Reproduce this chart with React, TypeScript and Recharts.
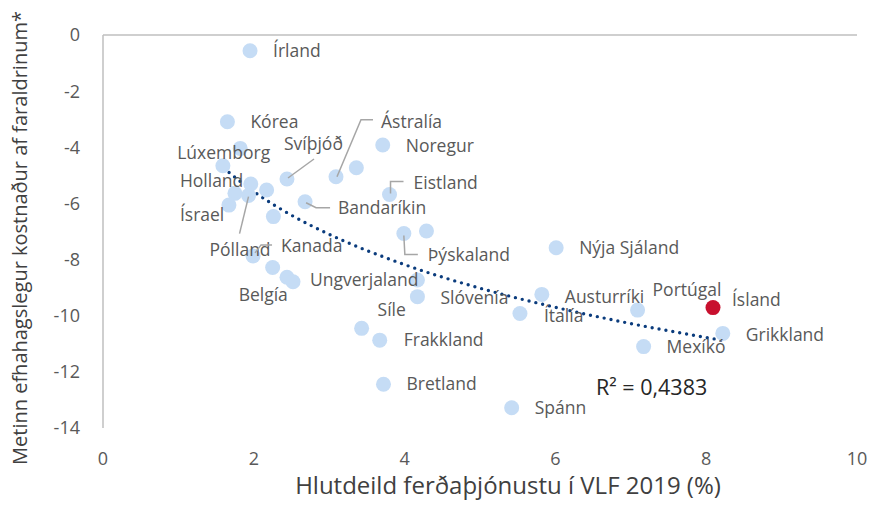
import { ComposedChart, Scatter, Line, XAxis, YAxis, ReferenceLine, Cell } from 'recharts'

const countries = [
  'Írland', 'Kórea', 'Lúxemborg', 'Holland', '', '', 'Pólland', 'Ísrael', '', 'Svíþjóð',
  '', 'Bandaríkin', 'Ástralía', '', 'Noregur', 'Eistland', 'Þýskaland', '', 'Kanada', 'Belgía',
  '', 'Ungverjaland', '', 'Slóvenía', 'Nýja Sjáland', 'Austurríki', 'Ítalía', 'Portúgal', 'Ísland', 'Grikkland',
  'Mexíkó', 'Síle', 'Frakkland', 'Bretland', 'Spánn',
]
const tourismShare = [
  1.95, 1.65, 1.82, 1.59, 1.96, 1.75, 1.93, 1.67, 2.17, 2.44,
  2.26, 2.68, 3.09, 3.36, 3.71, 3.8, 3.99, 4.29, 1.99, 2.25,
  2.44, 2.52, 4.17, 4.17, 6.01, 5.82, 5.53, 7.09, 8.09, 8.22,
  7.17, 3.43, 3.67, 3.72, 5.42,
]
const economicCost = [
  -0.56, -3.09, -4.04, -4.66, -5.31, -5.64, -5.72, -6.06, -5.52, -5.13,
  -6.47, -5.94, -5.05, -4.73, -3.92, -5.68, -7.07, -6.98, -7.87, -8.28,
  -8.63, -8.79, -8.73, -9.32, -7.58, -9.24, -9.92, -9.8, -9.71, -10.63,
  -11.1, -10.45, -10.87, -12.44, -13.28,
]

// trend line
const trendShare = [1.6, 2, 2.5, 3, 4, 5, 6, 7, 8.2]
const trendCost = [-4.74, -5.58, -6.42, -7.1, -8.18, -9.02, -9.7, -10.28, -10.87]

const xTicks = [0, 2, 4, 6, 8, 10]
const yTicks = [0, -2, -4, -6, -8, -10, -12, -14]

const points = countries.map((name, i) => ({ name, x: tourismShare[i], y: economicCost[i] }))
const trend = trendShare.map((x, i) => ({ x, y: trendCost[i] }))

// label offsets from the point centre (text start, vertical middle) + optional leader line
const labelLayout: Record<string, { dx: number; dy: number; leader?: number[][] }> = {
  'Írland': { dx: 23, dy: 0 },
  'Kórea': { dx: 23, dy: 0 },
  'Lúxemborg': { dx: -63, dy: 4 },
  'Holland': { dx: -43, dy: 15 },
  'Pólland': { dx: -39, dy: 54, leader: [[-9, 38], [0, 1]] },
  'Ísrael': { dx: -49, dy: 10 },
  'Svíþjóð': { dx: -3, dy: -35, leader: [[27, -20], [1, -1]] },
  'Bandaríkin': { dx: 33, dy: 6, leader: [[25, 6], [11, 6], [1, 1]] },
  'Ástralía': { dx: 45, dy: -55, leader: [[37, -57], [25, -57], [1, 0]] },
  'Noregur': { dx: 23, dy: 1 },
  'Eistland': { dx: 24, dy: -12, leader: [[14, -13], [1, -13], [1, -1]] },
  'Þýskaland': { dx: 24, dy: 21, leader: [[14, 21], [1, 21], [0, 2]] },
  'Kanada': { dx: 28, dy: -10, leader: [[19, -11], [8, -11], [2, -3]] },
  'Belgía': { dx: -34, dy: 27 },
  'Ungverjaland': { dx: 17, dy: -2 },
  'Slóvenía': { dx: 23, dy: 1 },
  'Nýja Sjáland': { dx: 23, dy: 0 },
  'Austurríki': { dx: 23, dy: 2 },
  'Ítalía': { dx: 24, dy: 2 },
  'Portúgal': { dx: 15, dy: -20 },
  'Ísland': { dx: 19, dy: -8 },
  'Grikkland': { dx: 23, dy: 1 },
  'Mexíkó': { dx: 23, dy: 0 },
  'Síle': { dx: 16, dy: -18 },
  'Frakkland': { dx: 24, dy: 0 },
  'Bretland': { dx: 23, dy: 0 },
  'Spánn': { dx: 23, dy: 0 },
}

const FONT = '"Open Sans", "Noto Sans", sans-serif'
const GREY = '#595959'

function Dot(props: any) {
  const { cx, cy, fill } = props
  return <circle cx={cx} cy={cy} r={7.5} fill={fill} />
}

function PointLabel(props: any) {
  const { cx, cy, payload } = props
  const layout = labelLayout[payload.name]
  if (!payload.name || !layout) return <g />
  const leader = layout.leader
  return (
    <g>
      {leader && (
        <polyline
          points={leader.map(([lx, ly]) => `${cx + lx},${cy + ly}`).join(' ')}
          fill="none"
          stroke="#a6a6a6"
          strokeWidth={1.5}
        />
      )}
      <text x={cx + layout.dx} y={cy + layout.dy} dy="0.35em" fontSize={17.5} fontFamily={FONT} fill={GREY}>
        {payload.name}
      </text>
    </g>
  )
}

export default function App() {
  return (
    <div style={{ position: 'absolute', left: 0, top: 0, width: 869, height: 511, background: '#fff' }}>
      <ComposedChart width={869} height={511} margin={{ top: 35, right: 12, bottom: 43, left: 0 }}>
        <XAxis
          type="number"
          dataKey="x"
          domain={[0, 10]}
          ticks={xTicks}
          axisLine={false}
          tickLine={false}
          tickMargin={18}
          height={40}
          tick={{ fontSize: 18, fill: GREY, fontFamily: FONT }}
        />
        <YAxis
          type="number"
          dataKey="y"
          domain={[-14, 0]}
          ticks={yTicks}
          axisLine={{ stroke: '#bfbfbf', strokeWidth: 1.5 }}
          tickLine={false}
          tickMargin={17}
          width={103}
          tick={{ fontSize: 18, fill: GREY, fontFamily: FONT }}
        />
        <ReferenceLine y={0} stroke="#bfbfbf" strokeWidth={1.5} />
        <Scatter data={points} shape={<Dot />} isAnimationActive={false}>
          {points.map((p, i) => (
            <Cell key={i} fill={p.name === 'Ísland' ? '#c8102e' : '#c5dcf5'} />
          ))}
        </Scatter>
        <Scatter data={points} shape={<PointLabel />} isAnimationActive={false} />
        <Line
          data={trend}
          dataKey="y"
          type="monotone"
          stroke="#0b3c7d"
          strokeWidth={3.4}
          strokeDasharray="0 7"
          strokeLinecap="round"
          dot={false}
          activeDot={false}
          isAnimationActive={false}
        />
        <text x={596} y={387} dy="0.35em" fontSize={21.5} fontFamily={FONT} fill="#262626">
          R² = 0,4383
        </text>
        <text x={508} y={486} dy="0.35em" textAnchor="middle" fontSize={24} fontFamily={FONT} fill="#404040">
          Hlutdeild ferðaþjónustu í VLF 2019 (%)
        </text>
        <text
          x={20}
          y={238}
          dy="0.35em"
          textAnchor="middle"
          transform="rotate(-90 20 238)"
          fontSize={20}
          fontFamily={FONT}
          fill="#404040"
        >
          Metinn efhahagslegur kostnaður af faraldrinum*
        </text>
      </ComposedChart>
    </div>
  )
}
